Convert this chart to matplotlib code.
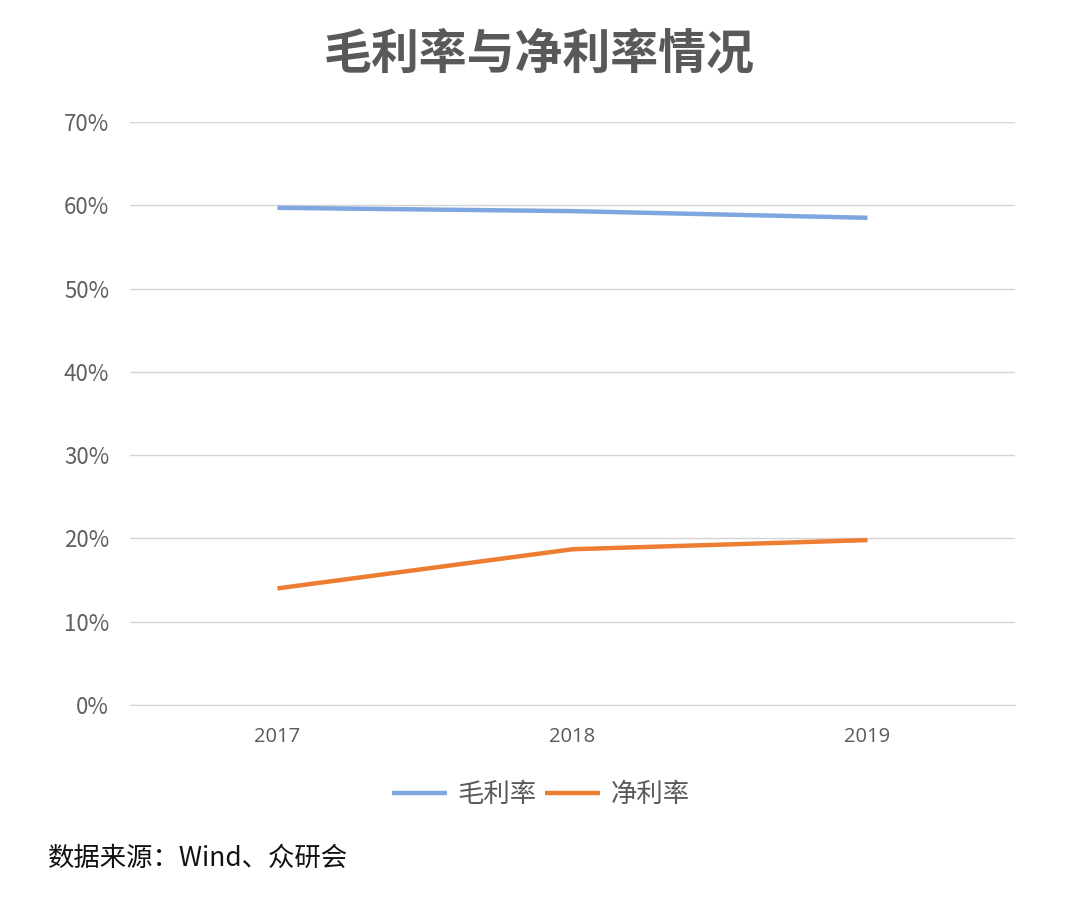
import matplotlib
matplotlib.use("Agg")
import matplotlib.pyplot as plt
from matplotlib.ticker import FuncFormatter

plt.rcParams['font.family'] = ['Noto Sans CJK SC', 'DejaVu Sans']

years = ['2017', '2018', '2019']
gross_margin = [59.7, 59.3, 58.5]
net_margin = [14.0, 18.7, 19.8]
y_ticks = [0, 10, 20, 30, 40, 50, 60, 70]

fig = plt.figure(figsize=(10.68, 9.10), dpi=100)
ax = fig.add_axes([0.1217, 0.2253, 0.8287, 0.6406])

x = range(len(years))
ax.plot(x, gross_margin, color='#7ea6e0', lw=3.2, label='毛利率', solid_capstyle='butt')
ax.plot(x, net_margin, color='#ed7d31', lw=3.2, label='净利率', solid_capstyle='butt')

ax.set_xlim(-0.5, 2.5)
ax.set_ylim(0, 70)
ax.set_yticks(y_ticks)
ax.yaxis.set_major_formatter(FuncFormatter(lambda v, p: f'{v:.0f}%'))
ax.set_xticks(list(x))
ax.set_xticklabels(years, fontfamily=['Open Sans', 'DejaVu Sans'])
ax.grid(axis='y', color='#d4d4d4', lw=1)
ax.set_axisbelow(True)
for s in ax.spines.values():
    s.set_visible(False)
ax.spines['bottom'].set_visible(True)
ax.spines['bottom'].set_color('#d4d4d4')
ax.tick_params(axis='both', length=0)
ax.tick_params(axis='y', labelsize=16, labelcolor='#606060', pad=15)
ax.tick_params(axis='x', labelsize=14.5, labelcolor='#595959', pad=16)

fig.text(0.505, 0.941, '毛利率与净利率情况', ha='center', va='center',
         fontsize=34.5, fontweight='bold', color='#595959')

ax.legend(loc='upper center', bbox_to_anchor=(0.464, -0.09), ncol=2, frameon=False,
          fontsize=19, handlelength=2.1, columnspacing=0.3, handletextpad=0.4,
          labelcolor='#595959')

fig.text(0.045, 0.057, '数据来源：Wind、众研会', ha='left', va='center',
         fontsize=19, color='#111111')

fig.savefig('out.png', dpi=100, facecolor='white')
